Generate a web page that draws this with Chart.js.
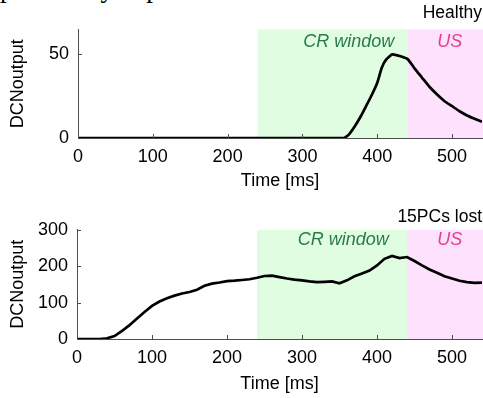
<!DOCTYPE html>
<html>
<head>
<meta charset="utf-8">
<script src="https://cdn.jsdelivr.net/npm/chart.js@4.4.1/dist/chart.umd.min.js"></script>
<style>
  body { margin: 0; width: 483px; height: 398px; overflow: hidden; background: #fff; position: relative; }
  #recorte { position: absolute; left: 0; top: -25px; font: 27px/27px "Liberation Serif", "Times New Roman", serif; white-space: nowrap; color: #000; }
  #panelSano { position: absolute; left: 0; top: 0; }
  #panelPerdidas { position: absolute; left: 0; top: 195px; }
</style>
</head>
<body>
<div id="recorte">previously explained.</div>
<canvas id="panelSano" width="483" height="195"></canvas>
<canvas id="panelPerdidas" width="483" height="203"></canvas>
<script>
// datos
const tiempoSano = [0, 355, 362, 370, 378, 385, 393, 400, 406, 412, 420, 430, 441, 450, 460, 470, 480, 490, 500, 510, 520, 530, 540];
const salidaSano = [0, 0, 2, 7, 13, 19, 26, 33, 42, 47, 50, 49, 47, 41.5, 36, 30.5, 26, 22, 19, 16, 13.5, 11.5, 9.7];

const tiempoPerdidas = [0, 10, 20, 30, 40, 50, 60, 70, 80, 90, 100, 110, 120, 130, 140, 150, 160, 170, 180, 190,
  200, 210, 220, 230, 240, 250, 260, 270, 280, 290, 300, 310, 320, 330, 340, 350, 360, 370, 380, 390,
  400, 410, 420, 430, 440, 450, 460, 470, 480, 490, 500, 510, 520, 530, 540];
const salidaPerdidas = [0, 0, 0, 0, 2, 8, 22, 38, 56, 74, 91, 103, 112, 119, 125, 129, 135, 146, 152, 155,
  159, 160, 162, 164, 168, 173, 174, 170, 166, 163, 161, 158, 156, 157, 158, 153, 161, 172, 180, 188,
  202, 220, 228, 222, 225, 214, 202, 191, 182, 172, 166, 160, 156, 154, 155];

const ventanaCR = [240, 440];
const ventanaUS = [440, 540];
const ticksX = [0, 100, 200, 300, 400, 500];
const ticksSano = [0, 50];
const ticksPerdidas = [0, 100, 200, 300];

const fuente = '"Liberation Sans", Arial, sans-serif';

const sombras = {
  id: 'sombras',
  beforeDraw(chart) {
    const {ctx, chartArea, scales: {x}} = chart;
    const alto = chartArea.bottom - chartArea.top;
    const a = x.getPixelForValue(ventanaCR[0]);
    const b = x.getPixelForValue(ventanaCR[1]);
    ctx.save();
    ctx.fillStyle = '#e1fde1';
    ctx.fillRect(a, chartArea.top, b - a, alto);
    ctx.fillStyle = '#fde1fd';
    ctx.fillRect(b, chartArea.top, chart.width - b, alto);
    const op = chart.options.plugins.sombras;
    ctx.font = 'italic 18px ' + fuente;
    ctx.textAlign = 'center';
    ctx.textBaseline = 'middle';
    ctx.fillStyle = '#2b7a4b';
    ctx.fillText('CR window', x.getPixelForValue(op.crX), chartArea.top + op.textoY);
    ctx.fillStyle = '#e4418a';
    ctx.fillText('US', x.getPixelForValue(497), chartArea.top + op.textoY);
    ctx.restore();
  },
  afterDraw(chart) {
    // marcas hacia dentro
    const {ctx, chartArea, scales: {x, y}} = chart;
    ctx.save();
    ctx.strokeStyle = '#4d4d4d';
    ctx.lineWidth = 1;
    ctx.beginPath();
    for (const t of x.ticks) {
      const px = Math.round(x.getPixelForValue(t.value)) + 0.5;
      ctx.moveTo(px, chartArea.bottom);
      ctx.lineTo(px, chartArea.bottom - 4);
    }
    for (const t of y.ticks) {
      const py = Math.round(y.getPixelForValue(t.value)) + 0.5;
      ctx.moveTo(chartArea.left, py);
      ctx.lineTo(chartArea.left + 4, py);
    }
    ctx.stroke();
    ctx.restore();
  }
};

function crearPanel(id, titulo, tiempos, valores, yMax, yTicks, cfg) {
  const puntos = tiempos.map((t, i) => ({x: t, y: valores[i]}));
  return new Chart(document.getElementById(id), {
    type: 'line',
    data: {
      datasets: [{
        data: puntos,
        borderColor: '#000',
        borderWidth: 2.7,
        pointRadius: 0,
        tension: cfg.tension,
        fill: false
      }]
    },
    options: {
      responsive: false,
      animation: false,
      layout: {padding: {left: 0, right: 1, top: 0, bottom: 0}},
      plugins: {
        legend: {display: false},
        tooltip: {enabled: false},
        title: {
          display: true,
          text: titulo,
          align: 'end',
          color: '#000',
          font: {family: fuente, size: 17.5, weight: 'normal'},
          padding: cfg.tituloPad
        },
        sombras: {textoY: cfg.textoY, crX: cfg.crX}
      },
      scales: {
        x: {
          type: 'linear',
          min: 0,
          max: 540,
          grid: {display: false, drawTicks: false},
          border: {display: true, color: '#4d4d4d', width: 1},
          afterBuildTicks: s => { s.ticks = ticksX.map(v => ({value: v})); },
          afterFit: s => { s.height = cfg.altoX; },
          ticks: {color: '#000', font: {family: fuente, size: 18}, padding: 7.9, maxRotation: 0},
          title: {display: true, text: 'Time [ms]', color: '#000', font: {family: fuente, size: 18}, padding: {top: 0, bottom: 3.2}}
        },
        y: {
          min: 0,
          max: yMax,
          grid: {display: false, drawTicks: false},
          border: {display: true, color: '#4d4d4d', width: 1},
          afterBuildTicks: s => { s.ticks = yTicks.map(v => ({value: v})); },
          afterFit: s => { s.width = cfg.anchoY; },
          ticks: {color: '#000', font: {family: fuente, size: 18}, padding: 9},
          title: {display: true, text: 'DCNoutput', color: '#000', font: {family: fuente, size: 18}, padding: {top: 7.7, bottom: 0}}
        }
      }
    },
    plugins: [sombras]
  });
}

crearPanel('panelSano', 'Healthy', tiempoSano, salidaSano, 65, ticksSano,
  {tituloPad: {top: 2.8, bottom: 5.5}, altoX: 57, anchoY: 78, textoY: 12.4, crX: 362, tension: 0.15});
crearPanel('panelPerdidas', '15PCs lost', tiempoPerdidas, salidaPerdidas, 300, ticksPerdidas,
  {tituloPad: {top: 11.2, bottom: 2.5}, altoX: 59, anchoY: 77, textoY: 10.3, crX: 355, tension: 0});
</script>
</body>
</html>
